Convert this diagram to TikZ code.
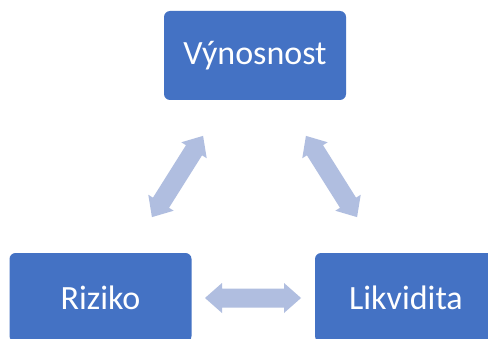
\documentclass[tikz,border=0pt]{standalone}
\usepackage{fontspec}
\setmainfont{Carlito}
\definecolor{boxblue}{HTML}{4472C4}
\definecolor{arrowc}{HTML}{B0BEE0}
\tikzset{
  box/.style={fill=boxblue, rounded corners=6pt, minimum width=182pt, minimum height=89pt, inner sep=0pt, text=white, font=\fontsize{34}{38}\selectfont},
  dblarrow/.style={fill=arrowc}
}
\newcommand\blockarrow[2]{%
  \fill[dblarrow, shift={#1}, rotate=#2] (-48,0) -- (-31,15) -- (-31,9.5) -- (31,9.5) -- (31,15) -- (48,0) -- (31,-15) -- (31,-9.5) -- (-31,-9.5) -- (-31,-15) -- cycle;}
\begin{document}
\begin{tikzpicture}[x=1pt,y=1pt]
\useasboundingbox (0,0) rectangle (488,338);
\clip (0,0) rectangle (488,338);
\fill[white] (0,0) rectangle (488,338);
\node[box] (v) at (255,282.5) {Výnosnost};
\node[box] (r) at (100.5,40.5) {Riziko};
\node[box] (l) at (406,40.5) {Likvidita};
\blockarrow{(177.5,161.5)}{57.8}
\blockarrow{(331.5,161.5)}{-57.8}
\blockarrow{(253,40)}{0}
\end{tikzpicture}
\end{document}
